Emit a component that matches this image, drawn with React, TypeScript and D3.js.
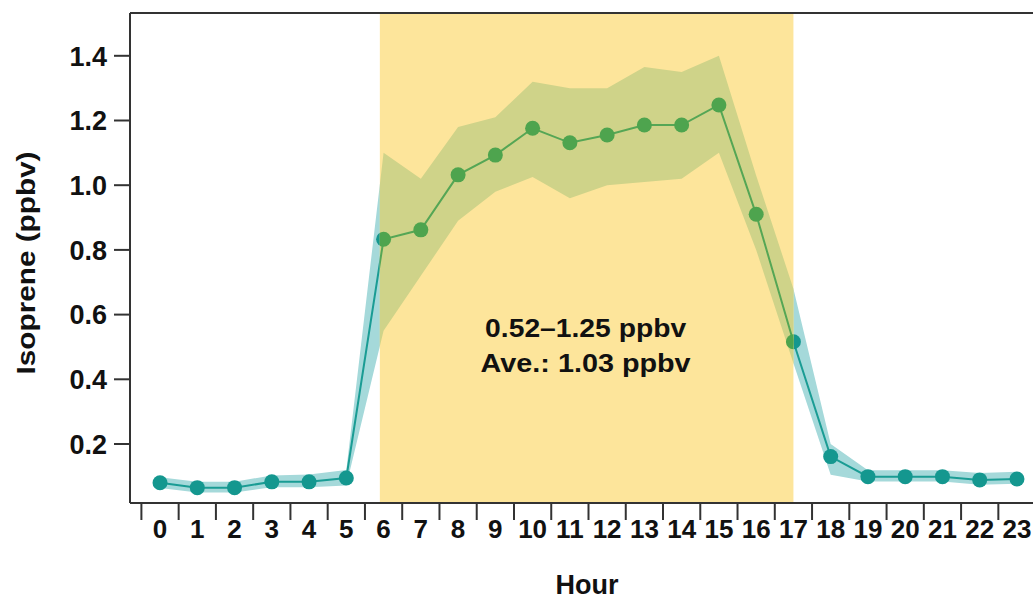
import React from "react";
import * as d3 from "d3";

const hours: number[] = d3.range(0, 24);
const meanValues: number[] = [0.080, 0.065, 0.065, 0.083, 0.083, 0.095, 0.833, 0.862, 1.032, 1.093, 1.176, 1.131, 1.155, 1.186, 1.186, 1.248, 0.910, 0.516, 0.161, 0.099, 0.099, 0.099, 0.089, 0.092];
const upperValues: number[] = [0.097, 0.083, 0.083, 0.103, 0.106, 0.120, 1.10, 1.02, 1.18, 1.21, 1.32, 1.30, 1.30, 1.365, 1.35, 1.40, 1.03, 0.68, 0.20, 0.119, 0.119, 0.119, 0.110, 0.114];
const lowerValues: number[] = [0.064, 0.050, 0.050, 0.066, 0.066, 0.072, 0.55, 0.72, 0.89, 0.98, 1.025, 0.96, 1.00, 1.01, 1.02, 1.10, 0.80, 0.45, 0.105, 0.084, 0.084, 0.084, 0.074, 0.077];
const yTicks: number[] = [0.2, 0.4, 0.6, 0.8, 1.0, 1.2, 1.4];
const xTickLabels: string[] = hours.map((h) => String(h));
const dayStart = 5.9;
const dayEnd = 17.0;
const annotationLines: string[] = ["0.52\u20131.25 ppbv", "Ave.: 1.03 ppbv"];
const xTitle = "Hour";
const yTitle = "Isoprene (ppbv)";

const W = 1033;
const H = 599;
const plotLeft = 130;
const plotTop = 13;
const plotBottom = 503;

const FONT = "'Liberation Sans', Arial, Helvetica, sans-serif";

export default function App() {
  const x = d3.scaleLinear().domain([-0.5, 23.5]).range([141.4, 1035.6]);
  const y = d3.scaleLinear().domain([0, 1.4]).range([508.7, 55.8]);

  const rows = hours.map((h, i) => ({ h, m: meanValues[i], lo: lowerValues[i], hi: upperValues[i] }));
  const area = d3
    .area<any>()
    .x((d) => x(d.h))
    .y0((d) => y(d.lo))
    .y1((d) => y(d.hi));
  const line = d3
    .line<any>()
    .x((d) => x(d.h))
    .y((d) => y(d.m));

  const dayX0 = x(dayStart);
  const dayX1 = x(dayEnd);

  const teal = { band: "#a5d9da", line: "#1a9c94", point: "#14978f" };
  const green = { band: "#cfd389", line: "#55a655", point: "#4ea44e" };

  const series = (c: typeof teal, clip?: string) => (
    <g clipPath={clip}>
      <path d={area(rows) || ""} fill={c.band} />
      <path d={line(rows) || ""} fill="none" stroke={c.line} strokeWidth={2} />
      {rows.map((d) => (
        <circle key={d.h} cx={x(d.h)} cy={y(d.m)} r={7.5} fill={c.point} />
      ))}
    </g>
  );

  const boundaries = d3.range(0, 25).map((k) => k - 0.5);

  return (
    <svg width={W} height={H} style={{ position: "absolute", left: 0, top: 0, background: "#fff" }}>
      <defs>
        <clipPath id="dayClip">
          <rect x={dayX0} y={plotTop} width={dayX1 - dayX0} height={plotBottom - plotTop} />
        </clipPath>
      </defs>

      {series(teal)}
      <rect x={dayX0} y={plotTop} width={dayX1 - dayX0} height={plotBottom - plotTop} fill="#fde59b" />
      {series(green, "url(#dayClip)")}

      <g fontFamily={FONT} fontWeight="bold" fontSize={25} fill="#111" textAnchor="middle">
        <text x={(dayX0 + dayX1) / 2 - 1} y={337} textLength={201} lengthAdjust="spacingAndGlyphs">
          {annotationLines[0]}
        </text>
        <text x={(dayX0 + dayX1) / 2 - 1} y={372} textLength={210} lengthAdjust="spacingAndGlyphs">
          {annotationLines[1]}
        </text>
      </g>

      {/* frame */}
      <g stroke="#333" strokeWidth={2} fill="none">
        <line x1={plotLeft} y1={plotTop} x2={W} y2={plotTop} />
        <line x1={plotLeft} y1={plotTop} x2={plotLeft} y2={plotBottom} />
        <line x1={plotLeft} y1={plotBottom} x2={W} y2={plotBottom} />
      </g>

      {/* y axis */}
      <g fontFamily={FONT} fontWeight="bold" fontSize={27} fill="#111">
        {yTicks.map((t) => (
          <g key={t}>
            <line x1={plotLeft - 16} x2={plotLeft} y1={y(t)} y2={y(t)} stroke="#333" strokeWidth={2} />
            <text x={107} y={y(t)} dy="0.36em" textAnchor="end">
              {d3.format(".1f")(t)}
            </text>
          </g>
        ))}
      </g>

      {/* x axis */}
      <g fontFamily={FONT} fontWeight="bold" fontSize={26} fill="#111">
        {boundaries.map((b) => (
          <line key={b} x1={x(b)} x2={x(b)} y1={plotBottom} y2={plotBottom + 17} stroke="#333" strokeWidth={2} />
        ))}
        {hours.map((h, i) => (
          <text key={h} x={x(h)} y={538} textAnchor="middle">
            {xTickLabels[i]}
          </text>
        ))}
      </g>

      <text x={587} y={594} textAnchor="middle" fontFamily={FONT} fontWeight="bold" fontSize={27} fill="#111">
        {xTitle}
      </text>
      <text
        transform={`translate(35, 263) rotate(-90)`}
        textAnchor="middle"
        fontFamily={FONT}
        fontWeight="bold"
        fontSize={26}
        fill="#111"
        textLength={223}
        lengthAdjust="spacingAndGlyphs"
      >
        {yTitle}
      </text>
    </svg>
  );
}
